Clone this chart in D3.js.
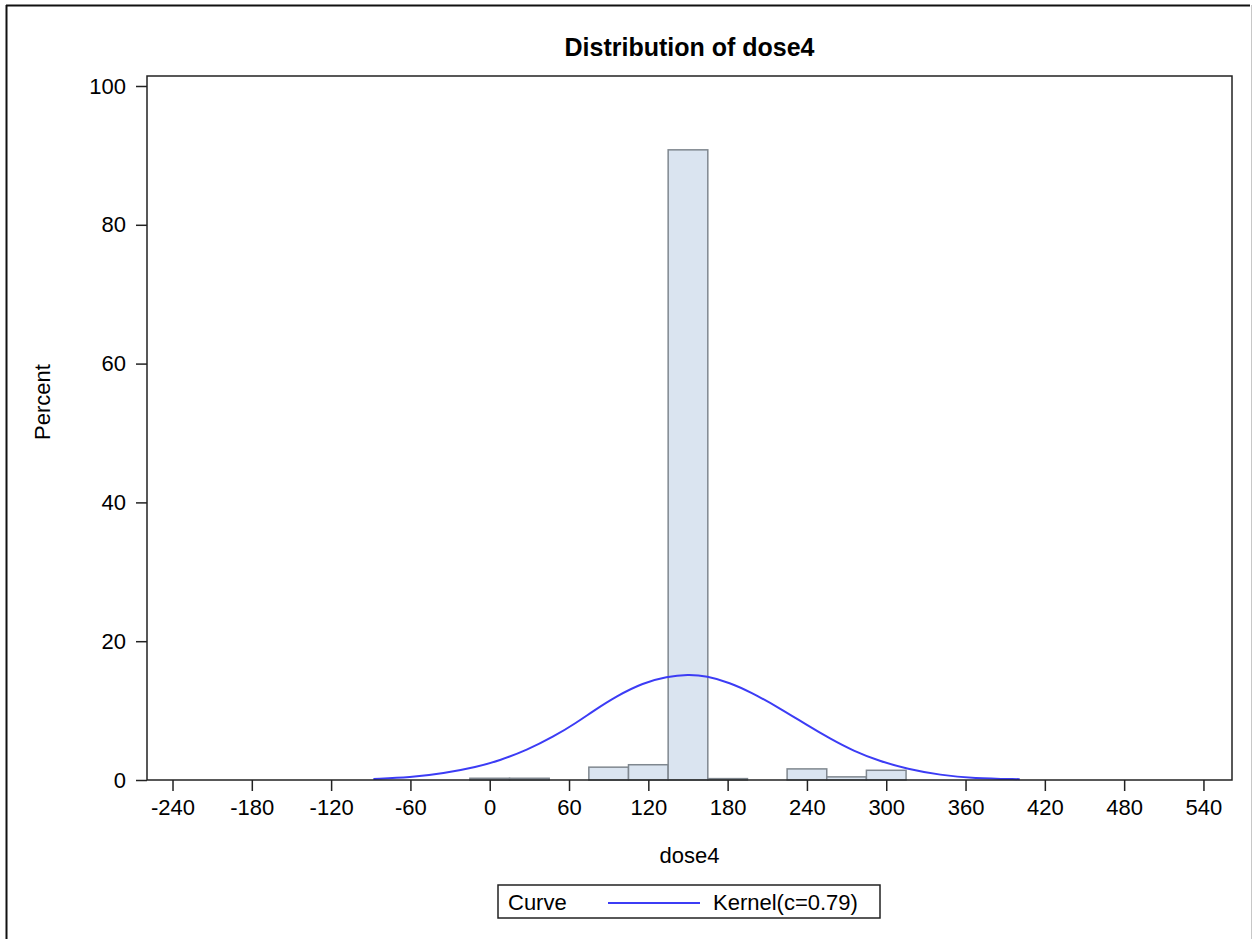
<!DOCTYPE html>
<html>
<head>
<meta charset="utf-8">
<script src="https://cdn.jsdelivr.net/npm/d3@7/dist/d3.min.js"></script>
<style>
  html, body { margin: 0; padding: 0; background: #fff; }
  svg { display: block; }
  text { font-family: "Liberation Sans", Arial, sans-serif; fill: #000; }
</style>
</head>
<body>
<svg id="chart" width="1253" height="939"></svg>
<script>
// ---- data ----
const title = "Distribution of dose4";
const xLabel = "dose4";
const yLabel = "Percent";
const binWidth = 30;
const binCenters = [0, 30, 60, 90, 120, 150, 180, 210, 240, 270, 300];
const binPercent = [0.25, 0.25, 0, 1.85, 2.2, 90.8, 0.2, 0, 1.6, 0.45, 1.4];
const kernelX = [-88, -60, -35, -10, 8, 28, 48, 66, 78, 96, 116, 134, 150, 164, 182, 197, 220, 240, 258, 275, 295, 316, 341, 366, 401];
const kernelY = [0.15, 0.35, 0.95, 1.85, 2.85, 4.3, 6.2, 8.3, 9.9, 12.1, 14.0, 14.9, 15.2, 15.0, 14.0, 12.7, 10.3, 7.9, 5.9, 4.2, 2.7, 1.6, 0.7, 0.25, 0.12];
const xTicks = [-240, -180, -120, -60, 0, 60, 120, 180, 240, 300, 360, 420, 480, 540];
const yTicks = [0, 20, 40, 60, 80, 100];
const legendTitle = "Curve";
const legendLabel = "Kernel(c=0.79)";

// ---- layout ----
const W = 1253, H = 939;
const plot = { left: 147, right: 1232, top: 76, bottom: 780 };
const fontSize = 22;

const svg = d3.select("#chart");

// outer border
svg.append("line").attr("x1", 6).attr("x2", 1250).attr("y1", 5.5).attr("y2", 5.5)
  .attr("stroke", "#111").attr("stroke-width", 2);
svg.append("line").attr("x1", 6.5).attr("x2", 6.5).attr("y1", 5).attr("y2", H)
  .attr("stroke", "#111").attr("stroke-width", 2);
svg.append("line").attr("x1", 1251.5).attr("x2", 1251.5).attr("y1", 5).attr("y2", H)
  .attr("stroke", "#c8c8c8").attr("stroke-width", 1);

const x = d3.scaleLinear().domain([-259.3, 561.6]).range([plot.left, plot.right]);
const y = d3.scaleLinear().domain([0, 101.44]).range([plot.bottom, plot.top]);

// bars
const bins = binCenters.map((c, i) => ({ c, v: binPercent[i] })).filter(d => d.v > 0);
svg.append("g").selectAll("rect").data(bins).join("rect")
  .attr("x", d => x(d.c - binWidth / 2))
  .attr("width", d => x(d.c + binWidth / 2) - x(d.c - binWidth / 2))
  .attr("y", d => y(d.v))
  .attr("height", d => y(0) - y(d.v))
  .attr("fill", "#dae4f0")
  .attr("stroke", "#7f878f")
  .attr("stroke-width", 1.5);

// kernel curve
const kernel = kernelX.map((v, i) => [v, kernelY[i]]);
const kernelLine = d3.line().x(d => x(d[0])).y(d => y(d[1])).curve(d3.curveBasis);
svg.append("path").datum(kernel)
  .attr("d", kernelLine)
  .attr("fill", "none")
  .attr("stroke", "#3c3cf5")
  .attr("stroke-width", 2);

// frame
svg.append("rect")
  .attr("x", plot.left).attr("y", plot.top)
  .attr("width", plot.right - plot.left).attr("height", plot.bottom - plot.top)
  .attr("fill", "none").attr("stroke", "#222").attr("stroke-width", 1.5);

// axes
const xAxis = svg.append("g").attr("transform", `translate(0,${plot.bottom})`)
  .call(d3.axisBottom(x).tickValues(xTicks).tickSize(11).tickPadding(8).tickFormat(d3.format("d")));
const yAxis = svg.append("g").attr("transform", `translate(${plot.left},0)`)
  .call(d3.axisLeft(y).tickValues(yTicks).tickSize(11).tickPadding(10).tickFormat(d3.format("d")));
[xAxis, yAxis].forEach(g => {
  g.select(".domain").remove();
  g.selectAll(".tick line").attr("stroke", "#222").attr("stroke-width", 1.5);
  g.selectAll(".tick text")
    .attr("fill", "#000")
    .style("font-family", "'Liberation Sans', Arial, sans-serif")
    .style("font-size", fontSize + "px");
});
xAxis.selectAll(".tick text").text(d => d < 0 ? "-" + Math.abs(d) : String(d));

// title & labels
svg.append("text").attr("x", (plot.left + plot.right) / 2).attr("y", 56)
  .attr("text-anchor", "middle").style("font-size", "25px").style("font-weight", "bold")
  .text(title);
svg.append("text").attr("x", (plot.left + plot.right) / 2).attr("y", 863)
  .attr("text-anchor", "middle").style("font-size", fontSize + "px").text(xLabel);
svg.append("text").attr("transform", `translate(50,402) rotate(-90)`)
  .attr("text-anchor", "middle").style("font-size", fontSize + "px").text(yLabel);

// legend
const lg = svg.append("g");
lg.append("rect").attr("x", 498).attr("y", 885).attr("width", 382).attr("height", 33)
  .attr("fill", "#fff").attr("stroke", "#222").attr("stroke-width", 1.5);
lg.append("text").attr("x", 508).attr("y", 910).style("font-size", fontSize + "px").text(legendTitle);
lg.append("line").attr("x1", 608).attr("x2", 700).attr("y1", 903).attr("y2", 903)
  .attr("stroke", "#3c3cf5").attr("stroke-width", 2);
lg.append("text").attr("x", 713).attr("y", 910).style("font-size", fontSize + "px").text(legendLabel);
</script>
</body>
</html>
